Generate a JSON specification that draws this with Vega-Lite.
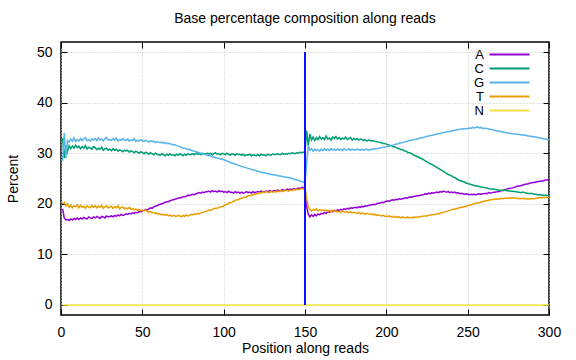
{
"$schema": "https://vega.github.io/schema/vega-lite/v6.json",
"autosize": "none",
"width": 488, "height": 273,
"padding": {"left": 61, "top": 42, "right": 27, "bottom": 45},
"background": "white",
"title": {"text": "Base percentage composition along reads", "font": "Liberation Sans", "fontSize": 14, "fontWeight": "normal", "color": "#000", "offset": 16},
"config": {
 "view": {"stroke": "#000", "strokeWidth": 1.5},
 "axis": {"domain": false, "labelFont": "Liberation Sans", "labelFontSize": 14, "labelColor": "#000", "titleFont": "Liberation Sans", "titleFontSize": 14, "titleFontWeight": "normal", "titleColor": "#000", "labelFlush": false, "labelOverlap": false},
 "legend": {"orient": "none", "legendX": 442, "legendY": 6, "padding": 0, "symbolType": "M-4,0H4", "symbolSize": 100, "symbolStrokeWidth": 2, "labelAlign": "right", "labelOffset": -32, "labelFont": "Liberation Sans", "labelFontSize": 13, "labelColor": "#000", "rowPadding": -0.5, "title": null}
},
"resolve": {"axis": {"x": "independent", "y": "independent"}},
"layer": [
 {
  "data": {"values": [
{"p":1,"A":19.0,"C":33.0,"G":28.5,"T":20.0,"N":0},{"p":2,"A":17.2,"C":29.0,"G":34.0,"T":20.3,"N":0},{"p":3,"A":16.8,"C":31.6,"G":29.0,"T":19.6,"N":0},{"p":4,"A":16.9,"C":30.4,"G":32.5,"T":20.0,"N":0},{"p":5,"A":16.7,"C":31.5,"G":32.2,"T":19.3,"N":0},{"p":6,"A":17.0,"C":30.9,"G":32.8,"T":19.7,"N":0},{"p":7,"A":16.8,"C":31.4,"G":32.4,"T":19.2,"N":0},{"p":8,"A":17.1,"C":31.0,"G":33.0,"T":19.6,"N":0},{"p":9,"A":16.9,"C":31.6,"G":32.3,"T":19.4,"N":0},{"p":10,"A":17.2,"C":31.1,"G":32.7,"T":19.8,"N":0},
{"p":11,"A":16.9,"C":31.4,"G":32.4,"T":19.2,"N":0},{"p":12,"A":17.2,"C":30.9,"G":32.9,"T":19.7,"N":0},{"p":13,"A":17.0,"C":31.3,"G":32.5,"T":19.3,"N":0},{"p":14,"A":17.3,"C":31.0,"G":32.8,"T":19.5,"N":0},{"p":15,"A":17.1,"C":31.5,"G":33.1,"T":19.1,"N":0},{"p":16,"A":17.0,"C":30.8,"G":32.5,"T":19.6,"N":0},{"p":17,"A":17.4,"C":31.2,"G":32.7,"T":19.4,"N":0},{"p":18,"A":17.2,"C":31.0,"G":32.4,"T":19.2,"N":0},{"p":19,"A":17.1,"C":30.8,"G":32.9,"T":19.7,"N":0},{"p":20,"A":17.4,"C":31.3,"G":32.6,"T":19.3,"N":0},
{"p":21,"A":17.2,"C":31.1,"G":32.9,"T":19.6,"N":0},{"p":22,"A":17.5,"C":30.7,"G":32.5,"T":19.2,"N":0},{"p":23,"A":17.3,"C":31.0,"G":33.0,"T":19.5,"N":0},{"p":24,"A":17.1,"C":30.8,"G":32.6,"T":19.3,"N":0},{"p":25,"A":17.5,"C":31.2,"G":32.8,"T":19.7,"N":0},{"p":26,"A":17.4,"C":30.6,"G":32.4,"T":19.1,"N":0},{"p":27,"A":17.2,"C":30.9,"G":32.9,"T":19.4,"N":0},{"p":28,"A":17.6,"C":31.0,"G":33.1,"T":19.6,"N":0},{"p":29,"A":17.4,"C":30.6,"G":32.6,"T":19.2,"N":0},{"p":30,"A":17.5,"C":30.8,"G":32.7,"T":19.3,"N":0},
{"p":31,"A":17.6,"C":30.5,"G":32.5,"T":19.5,"N":0},{"p":32,"A":17.4,"C":30.9,"G":32.9,"T":19.1,"N":0},{"p":33,"A":17.7,"C":30.6,"G":32.6,"T":19.4,"N":0},{"p":34,"A":17.5,"C":30.8,"G":33.0,"T":19.2,"N":0},{"p":35,"A":17.8,"C":30.4,"G":32.4,"T":19.6,"N":0},{"p":36,"A":17.6,"C":30.7,"G":32.7,"T":19.0,"N":0},{"p":37,"A":17.9,"C":30.5,"G":32.5,"T":19.3,"N":0},{"p":38,"A":17.7,"C":30.3,"G":32.9,"T":19.4,"N":0},{"p":39,"A":17.8,"C":30.6,"G":32.6,"T":19.0,"N":0},{"p":40,"A":18.0,"C":30.4,"G":32.5,"T":19.2,"N":0},
{"p":41,"A":17.9,"C":30.6,"G":32.8,"T":19.0,"N":0},{"p":42,"A":18.1,"C":30.2,"G":32.4,"T":19.3,"N":0},{"p":43,"A":18.0,"C":30.5,"G":32.7,"T":18.9,"N":0},{"p":44,"A":18.2,"C":30.3,"G":32.5,"T":19.1,"N":0},{"p":45,"A":18.1,"C":30.1,"G":32.9,"T":18.8,"N":0},{"p":46,"A":18.3,"C":30.4,"G":32.3,"T":19.0,"N":0},{"p":47,"A":18.2,"C":30.2,"G":32.6,"T":18.7,"N":0},{"p":48,"A":18.5,"C":30.0,"G":32.4,"T":18.9,"N":0},{"p":49,"A":18.4,"C":30.3,"G":32.7,"T":18.6,"N":0},{"p":50,"A":18.6,"C":30.1,"G":32.5,"T":18.8,"N":0},
{"p":51,"A":18.7,"C":29.9,"G":32.3,"T":18.6,"N":0},{"p":52,"A":18.9,"C":30.2,"G":32.6,"T":18.8,"N":0},{"p":53,"A":18.8,"C":30.0,"G":32.4,"T":18.5,"N":0},{"p":54,"A":19.0,"C":29.8,"G":32.2,"T":18.3,"N":0},{"p":55,"A":19.2,"C":30.1,"G":32.5,"T":18.5,"N":0},{"p":56,"A":19.1,"C":29.9,"G":32.3,"T":18.2,"N":0},{"p":57,"A":19.4,"C":29.7,"G":32.4,"T":18.3,"N":0},{"p":58,"A":19.5,"C":30.0,"G":32.1,"T":18.0,"N":0},{"p":59,"A":19.6,"C":29.8,"G":32.3,"T":18.2,"N":0},{"p":60,"A":19.8,"C":29.7,"G":32.2,"T":17.9,"N":0},
{"p":61,"A":19.9,"C":29.6,"G":32.1,"T":18.0,"N":0},{"p":62,"A":20.0,"C":29.9,"G":32.2,"T":17.8,"N":0},{"p":63,"A":20.1,"C":29.7,"G":32.0,"T":17.9,"N":0},{"p":64,"A":20.3,"C":29.5,"G":32.1,"T":17.7,"N":0},{"p":65,"A":20.4,"C":29.8,"G":31.9,"T":17.9,"N":0},{"p":66,"A":20.4,"C":29.6,"G":32.0,"T":17.6,"N":0},{"p":67,"A":20.6,"C":29.9,"G":31.8,"T":17.8,"N":0},{"p":68,"A":20.7,"C":29.6,"G":31.8,"T":17.5,"N":0},{"p":69,"A":20.8,"C":29.7,"G":31.6,"T":17.7,"N":0},{"p":70,"A":20.9,"C":29.5,"G":31.7,"T":17.6,"N":0},
{"p":71,"A":21.0,"C":29.8,"G":31.5,"T":17.5,"N":0},{"p":72,"A":21.1,"C":29.6,"G":31.4,"T":17.7,"N":0},{"p":73,"A":21.2,"C":29.9,"G":31.3,"T":17.6,"N":0},{"p":74,"A":21.2,"C":29.7,"G":31.2,"T":17.4,"N":0},{"p":75,"A":21.4,"C":29.5,"G":31.0,"T":17.7,"N":0},{"p":76,"A":21.4,"C":29.8,"G":31.0,"T":17.5,"N":0},{"p":77,"A":21.5,"C":29.6,"G":30.9,"T":17.8,"N":0},{"p":78,"A":21.7,"C":29.9,"G":30.7,"T":17.6,"N":0},{"p":79,"A":21.6,"C":29.7,"G":30.8,"T":17.7,"N":0},{"p":80,"A":21.8,"C":29.8,"G":30.6,"T":17.9,"N":0},
{"p":81,"A":21.9,"C":29.9,"G":30.5,"T":17.8,"N":0},{"p":82,"A":21.8,"C":29.7,"G":30.4,"T":18.0,"N":0},{"p":83,"A":22.0,"C":30.0,"G":30.3,"T":17.9,"N":0},{"p":84,"A":22.1,"C":29.8,"G":30.2,"T":18.1,"N":0},{"p":85,"A":22.2,"C":29.9,"G":30.1,"T":18.0,"N":0},{"p":86,"A":22.1,"C":29.7,"G":30.0,"T":18.2,"N":0},{"p":87,"A":22.3,"C":30.0,"G":29.8,"T":18.3,"N":0},{"p":88,"A":22.2,"C":29.8,"G":29.9,"T":18.4,"N":0},{"p":89,"A":22.4,"C":29.9,"G":29.7,"T":18.5,"N":0},{"p":90,"A":22.4,"C":30.0,"G":29.6,"T":18.6,"N":0},
{"p":91,"A":22.5,"C":29.8,"G":29.5,"T":18.8,"N":0},{"p":92,"A":22.3,"C":30.0,"G":29.5,"T":18.7,"N":0},{"p":93,"A":22.6,"C":29.7,"G":29.2,"T":18.9,"N":0},{"p":94,"A":22.4,"C":29.9,"G":29.3,"T":19.0,"N":0},{"p":95,"A":22.5,"C":30.1,"G":29.1,"T":19.1,"N":0},{"p":96,"A":22.3,"C":29.8,"G":29.0,"T":19.1,"N":0},{"p":97,"A":22.6,"C":29.9,"G":29.0,"T":19.3,"N":0},{"p":98,"A":22.4,"C":29.7,"G":28.8,"T":19.4,"N":0},{"p":99,"A":22.5,"C":30.0,"G":28.9,"T":19.4,"N":0},{"p":100,"A":22.3,"C":29.9,"G":28.7,"T":19.6,"N":0},
{"p":101,"A":22.4,"C":29.7,"G":28.6,"T":19.8,"N":0},{"p":102,"A":22.2,"C":30.0,"G":28.4,"T":19.9,"N":0},{"p":103,"A":22.5,"C":29.8,"G":28.4,"T":20.1,"N":0},{"p":104,"A":22.3,"C":29.6,"G":28.2,"T":20.2,"N":0},{"p":105,"A":22.3,"C":29.9,"G":28.0,"T":20.3,"N":0},{"p":106,"A":22.1,"C":29.8,"G":28.0,"T":20.5,"N":0},{"p":107,"A":22.4,"C":29.6,"G":27.8,"T":20.6,"N":0},{"p":108,"A":22.2,"C":29.9,"G":27.8,"T":20.8,"N":0},{"p":109,"A":22.3,"C":29.7,"G":27.6,"T":20.8,"N":0},{"p":110,"A":22.1,"C":29.8,"G":27.5,"T":21.0,"N":0},
{"p":111,"A":22.3,"C":29.6,"G":27.4,"T":21.1,"N":0},{"p":112,"A":22.1,"C":29.8,"G":27.3,"T":21.2,"N":0},{"p":113,"A":22.2,"C":29.5,"G":27.2,"T":21.3,"N":0},{"p":114,"A":22.4,"C":29.7,"G":27.1,"T":21.4,"N":0},{"p":115,"A":22.2,"C":29.6,"G":27.0,"T":21.6,"N":0},{"p":116,"A":22.3,"C":29.8,"G":26.9,"T":21.6,"N":0},{"p":117,"A":22.1,"C":29.5,"G":26.8,"T":21.7,"N":0},{"p":118,"A":22.4,"C":29.7,"G":26.7,"T":21.8,"N":0},{"p":119,"A":22.2,"C":29.6,"G":26.7,"T":21.9,"N":0},{"p":120,"A":22.3,"C":29.5,"G":26.5,"T":22.0,"N":0},
{"p":121,"A":22.4,"C":29.7,"G":26.5,"T":22.0,"N":0},{"p":122,"A":22.3,"C":29.5,"G":26.3,"T":22.2,"N":0},{"p":123,"A":22.5,"C":29.8,"G":26.3,"T":22.1,"N":0},{"p":124,"A":22.4,"C":29.6,"G":26.2,"T":22.3,"N":0},{"p":125,"A":22.3,"C":29.7,"G":26.1,"T":22.2,"N":0},{"p":126,"A":22.5,"C":29.5,"G":26.1,"T":22.4,"N":0},{"p":127,"A":22.4,"C":29.8,"G":25.9,"T":22.3,"N":0},{"p":128,"A":22.6,"C":29.7,"G":26.0,"T":22.2,"N":0},{"p":129,"A":22.5,"C":29.6,"G":25.8,"T":22.4,"N":0},{"p":130,"A":22.5,"C":29.8,"G":25.8,"T":22.3,"N":0},
{"p":131,"A":22.6,"C":29.8,"G":25.7,"T":22.4,"N":0},{"p":132,"A":22.5,"C":29.7,"G":25.7,"T":22.3,"N":0},{"p":133,"A":22.7,"C":29.9,"G":25.6,"T":22.5,"N":0},{"p":134,"A":22.6,"C":29.8,"G":25.5,"T":22.4,"N":0},{"p":135,"A":22.6,"C":29.7,"G":25.5,"T":22.6,"N":0},{"p":136,"A":22.8,"C":30.0,"G":25.4,"T":22.4,"N":0},{"p":137,"A":22.7,"C":29.8,"G":25.3,"T":22.5,"N":0},{"p":138,"A":22.7,"C":29.9,"G":25.3,"T":22.7,"N":0},{"p":139,"A":22.9,"C":29.8,"G":25.2,"T":22.6,"N":0},{"p":140,"A":22.8,"C":30.0,"G":25.2,"T":22.5,"N":0},
{"p":141,"A":22.9,"C":29.9,"G":25.1,"T":22.7,"N":0},{"p":142,"A":22.8,"C":30.1,"G":25.0,"T":22.6,"N":0},{"p":143,"A":23.0,"C":30.0,"G":24.9,"T":22.8,"N":0},{"p":144,"A":22.9,"C":29.9,"G":24.8,"T":22.7,"N":0},{"p":145,"A":23.0,"C":30.1,"G":24.8,"T":22.9,"N":0},{"p":146,"A":23.1,"C":30.0,"G":24.6,"T":22.8,"N":0},{"p":147,"A":23.0,"C":30.2,"G":24.5,"T":22.9,"N":0},{"p":148,"A":23.2,"C":30.1,"G":24.4,"T":23.0,"N":0},{"p":149,"A":23.2,"C":30.2,"G":24.3,"T":22.9,"N":0},{"p":150,"A":23.3,"C":30.3,"G":24.1,"T":23.1,"N":0},
{"p":151,"A":19.5,"C":34.5,"G":28.0,"T":21.0,"N":0},{"p":152,"A":18.0,"C":31.5,"G":31.5,"T":19.4,"N":0},{"p":153,"A":17.4,"C":33.8,"G":30.6,"T":18.9,"N":0},{"p":154,"A":17.8,"C":32.6,"G":30.9,"T":18.6,"N":0},{"p":155,"A":17.5,"C":33.2,"G":30.4,"T":18.9,"N":0},{"p":156,"A":17.9,"C":32.5,"G":30.8,"T":18.7,"N":0},{"p":157,"A":17.6,"C":33.1,"G":30.5,"T":19.0,"N":0},{"p":158,"A":18.0,"C":32.7,"G":30.7,"T":18.6,"N":0},{"p":159,"A":17.8,"C":33.3,"G":30.4,"T":18.8,"N":0},{"p":160,"A":18.1,"C":32.8,"G":30.8,"T":18.7,"N":0},
{"p":161,"A":18.0,"C":33.1,"G":30.5,"T":18.8,"N":0},{"p":162,"A":18.3,"C":32.7,"G":30.9,"T":18.6,"N":0},{"p":163,"A":18.1,"C":33.4,"G":30.6,"T":18.8,"N":0},{"p":164,"A":18.5,"C":32.8,"G":30.8,"T":18.5,"N":0},{"p":165,"A":18.3,"C":33.0,"G":30.5,"T":18.7,"N":0},{"p":166,"A":18.6,"C":32.6,"G":30.9,"T":18.4,"N":0},{"p":167,"A":18.4,"C":33.2,"G":30.6,"T":18.7,"N":0},{"p":168,"A":18.7,"C":32.9,"G":30.8,"T":18.5,"N":0},{"p":169,"A":18.6,"C":33.3,"G":30.6,"T":18.6,"N":0},{"p":170,"A":18.8,"C":32.8,"G":30.9,"T":18.4,"N":0},
{"p":171,"A":18.7,"C":33.1,"G":30.6,"T":18.5,"N":0},{"p":172,"A":18.9,"C":32.7,"G":30.8,"T":18.3,"N":0},{"p":173,"A":18.8,"C":33.0,"G":30.5,"T":18.6,"N":0},{"p":174,"A":19.0,"C":32.8,"G":30.9,"T":18.4,"N":0},{"p":175,"A":18.9,"C":33.2,"G":30.7,"T":18.3,"N":0},{"p":176,"A":19.1,"C":32.7,"G":30.6,"T":18.5,"N":0},{"p":177,"A":19.0,"C":32.9,"G":30.9,"T":18.2,"N":0},{"p":178,"A":19.2,"C":33.1,"G":30.6,"T":18.4,"N":0},{"p":179,"A":19.1,"C":32.6,"G":30.8,"T":18.2,"N":0},{"p":180,"A":19.2,"C":32.9,"G":30.7,"T":18.3,"N":0},
{"p":181,"A":19.3,"C":32.7,"G":30.6,"T":18.2,"N":0},{"p":182,"A":19.2,"C":32.9,"G":30.8,"T":18.1,"N":0},{"p":183,"A":19.4,"C":32.6,"G":30.7,"T":18.3,"N":0},{"p":184,"A":19.3,"C":32.8,"G":30.6,"T":18.0,"N":0},{"p":185,"A":19.5,"C":32.7,"G":30.8,"T":18.2,"N":0},{"p":186,"A":19.4,"C":32.5,"G":30.6,"T":18.1,"N":0},{"p":187,"A":19.6,"C":32.7,"G":30.7,"T":17.9,"N":0},{"p":188,"A":19.5,"C":32.4,"G":30.8,"T":18.1,"N":0},{"p":189,"A":19.7,"C":32.6,"G":30.6,"T":18.0,"N":0},{"p":190,"A":19.7,"C":32.5,"G":30.7,"T":17.9,"N":0},
{"p":191,"A":19.8,"C":32.4,"G":30.8,"T":18.0,"N":0},{"p":192,"A":19.9,"C":32.5,"G":30.8,"T":17.8,"N":0},{"p":193,"A":19.8,"C":32.3,"G":30.9,"T":17.9,"N":0},{"p":194,"A":20.0,"C":32.3,"G":30.9,"T":17.7,"N":0},{"p":195,"A":20.1,"C":32.2,"G":31.0,"T":17.8,"N":0},{"p":196,"A":20.1,"C":32.1,"G":31.0,"T":17.7,"N":0},{"p":197,"A":20.3,"C":32.1,"G":31.1,"T":17.6,"N":0},{"p":198,"A":20.2,"C":31.9,"G":31.2,"T":17.7,"N":0},{"p":199,"A":20.4,"C":31.9,"G":31.2,"T":17.5,"N":0},{"p":200,"A":20.5,"C":31.8,"G":31.3,"T":17.6,"N":0},
{"p":201,"A":20.6,"C":31.7,"G":31.4,"T":17.5,"N":0},{"p":202,"A":20.5,"C":31.6,"G":31.4,"T":17.6,"N":0},{"p":203,"A":20.7,"C":31.5,"G":31.5,"T":17.4,"N":0},{"p":204,"A":20.8,"C":31.3,"G":31.6,"T":17.5,"N":0},{"p":205,"A":20.7,"C":31.3,"G":31.7,"T":17.3,"N":0},{"p":206,"A":20.9,"C":31.1,"G":31.8,"T":17.5,"N":0},{"p":207,"A":20.8,"C":31.0,"G":31.8,"T":17.3,"N":0},{"p":208,"A":21.0,"C":30.9,"G":32.0,"T":17.4,"N":0},{"p":209,"A":20.9,"C":30.7,"G":32.0,"T":17.2,"N":0},{"p":210,"A":21.0,"C":30.7,"G":32.1,"T":17.4,"N":0},
{"p":211,"A":21.1,"C":30.5,"G":32.2,"T":17.3,"N":0},{"p":212,"A":21.2,"C":30.4,"G":32.3,"T":17.2,"N":0},{"p":213,"A":21.1,"C":30.2,"G":32.3,"T":17.4,"N":0},{"p":214,"A":21.3,"C":30.1,"G":32.5,"T":17.2,"N":0},{"p":215,"A":21.4,"C":30.0,"G":32.5,"T":17.3,"N":0},{"p":216,"A":21.3,"C":29.8,"G":32.6,"T":17.2,"N":0},{"p":217,"A":21.5,"C":29.6,"G":32.7,"T":17.4,"N":0},{"p":218,"A":21.5,"C":29.5,"G":32.7,"T":17.3,"N":0},{"p":219,"A":21.6,"C":29.3,"G":32.8,"T":17.4,"N":0},{"p":220,"A":21.6,"C":29.2,"G":32.9,"T":17.4,"N":0},
{"p":221,"A":21.7,"C":29.0,"G":33.0,"T":17.5,"N":0},{"p":222,"A":21.8,"C":28.9,"G":33.1,"T":17.5,"N":0},{"p":223,"A":21.8,"C":28.7,"G":33.1,"T":17.6,"N":0},{"p":224,"A":22.0,"C":28.5,"G":33.3,"T":17.6,"N":0},{"p":225,"A":21.9,"C":28.3,"G":33.3,"T":17.6,"N":0},{"p":226,"A":22.1,"C":28.1,"G":33.4,"T":17.7,"N":0},{"p":227,"A":22.0,"C":27.9,"G":33.5,"T":17.8,"N":0},{"p":228,"A":22.2,"C":27.8,"G":33.5,"T":17.8,"N":0},{"p":229,"A":22.1,"C":27.6,"G":33.6,"T":17.9,"N":0},{"p":230,"A":22.2,"C":27.4,"G":33.7,"T":17.9,"N":0},
{"p":231,"A":22.3,"C":27.2,"G":33.8,"T":18.0,"N":0},{"p":232,"A":22.2,"C":27.0,"G":33.8,"T":18.0,"N":0},{"p":233,"A":22.4,"C":26.8,"G":33.9,"T":18.2,"N":0},{"p":234,"A":22.3,"C":26.6,"G":34.0,"T":18.2,"N":0},{"p":235,"A":22.5,"C":26.4,"G":34.1,"T":18.3,"N":0},{"p":236,"A":22.4,"C":26.2,"G":34.1,"T":18.4,"N":0},{"p":237,"A":22.3,"C":26.0,"G":34.2,"T":18.5,"N":0},{"p":238,"A":22.4,"C":25.8,"G":34.3,"T":18.6,"N":0},{"p":239,"A":22.2,"C":25.7,"G":34.3,"T":18.7,"N":0},{"p":240,"A":22.3,"C":25.5,"G":34.4,"T":18.8,"N":0},
{"p":241,"A":22.2,"C":25.3,"G":34.5,"T":18.9,"N":0},{"p":242,"A":22.3,"C":25.2,"G":34.5,"T":18.9,"N":0},{"p":243,"A":22.1,"C":25.0,"G":34.6,"T":19.0,"N":0},{"p":244,"A":22.2,"C":24.8,"G":34.7,"T":19.1,"N":0},{"p":245,"A":22.0,"C":24.6,"G":34.7,"T":19.2,"N":0},{"p":246,"A":22.1,"C":24.5,"G":34.8,"T":19.3,"N":0},{"p":247,"A":22.0,"C":24.4,"G":34.8,"T":19.3,"N":0},{"p":248,"A":21.9,"C":24.3,"G":34.9,"T":19.4,"N":0},{"p":249,"A":22.0,"C":24.1,"G":34.8,"T":19.5,"N":0},{"p":250,"A":21.9,"C":24.0,"G":34.9,"T":19.6,"N":0},
{"p":251,"A":21.8,"C":23.9,"G":35.0,"T":19.7,"N":0},{"p":252,"A":21.9,"C":23.8,"G":34.9,"T":19.8,"N":0},{"p":253,"A":21.8,"C":23.7,"G":35.1,"T":19.9,"N":0},{"p":254,"A":21.9,"C":23.6,"G":35.0,"T":20.0,"N":0},{"p":255,"A":21.8,"C":23.5,"G":35.1,"T":20.1,"N":0},{"p":256,"A":21.9,"C":23.5,"G":35.2,"T":20.2,"N":0},{"p":257,"A":22.0,"C":23.4,"G":35.0,"T":20.2,"N":0},{"p":258,"A":21.9,"C":23.3,"G":35.1,"T":20.3,"N":0},{"p":259,"A":22.0,"C":23.3,"G":34.9,"T":20.4,"N":0},{"p":260,"A":22.0,"C":23.2,"G":35.0,"T":20.5,"N":0},
{"p":261,"A":22.1,"C":23.1,"G":34.9,"T":20.6,"N":0},{"p":262,"A":22.0,"C":23.1,"G":34.9,"T":20.6,"N":0},{"p":263,"A":22.2,"C":23.0,"G":34.8,"T":20.7,"N":0},{"p":264,"A":22.1,"C":22.9,"G":34.7,"T":20.8,"N":0},{"p":265,"A":22.2,"C":22.9,"G":34.7,"T":20.8,"N":0},{"p":266,"A":22.3,"C":22.9,"G":34.6,"T":20.9,"N":0},{"p":267,"A":22.3,"C":22.8,"G":34.5,"T":20.9,"N":0},{"p":268,"A":22.4,"C":22.8,"G":34.4,"T":21.0,"N":0},{"p":269,"A":22.4,"C":22.7,"G":34.4,"T":20.9,"N":0},{"p":270,"A":22.5,"C":22.7,"G":34.3,"T":21.0,"N":0},
{"p":271,"A":22.6,"C":22.7,"G":34.2,"T":21.1,"N":0},{"p":272,"A":22.7,"C":22.6,"G":34.2,"T":21.0,"N":0},{"p":273,"A":22.8,"C":22.7,"G":34.1,"T":21.1,"N":0},{"p":274,"A":22.9,"C":22.6,"G":34.0,"T":21.1,"N":0},{"p":275,"A":23.0,"C":22.6,"G":34.0,"T":21.2,"N":0},{"p":276,"A":23.0,"C":22.5,"G":33.9,"T":21.1,"N":0},{"p":277,"A":23.1,"C":22.5,"G":33.9,"T":21.2,"N":0},{"p":278,"A":23.2,"C":22.5,"G":33.8,"T":21.1,"N":0},{"p":279,"A":23.3,"C":22.4,"G":33.8,"T":21.2,"N":0},{"p":280,"A":23.4,"C":22.4,"G":33.8,"T":21.1,"N":0},
{"p":281,"A":23.5,"C":22.3,"G":33.7,"T":21.0,"N":0},{"p":282,"A":23.5,"C":22.3,"G":33.7,"T":21.1,"N":0},{"p":283,"A":23.6,"C":22.2,"G":33.6,"T":21.0,"N":0},{"p":284,"A":23.7,"C":22.3,"G":33.6,"T":21.1,"N":0},{"p":285,"A":23.8,"C":22.2,"G":33.6,"T":21.0,"N":0},{"p":286,"A":23.9,"C":22.1,"G":33.5,"T":21.0,"N":0},{"p":287,"A":23.9,"C":22.1,"G":33.4,"T":20.9,"N":0},{"p":288,"A":24.1,"C":22.0,"G":33.4,"T":21.0,"N":0},{"p":289,"A":24.1,"C":22.1,"G":33.3,"T":21.0,"N":0},{"p":290,"A":24.2,"C":22.0,"G":33.3,"T":21.0,"N":0},
{"p":291,"A":24.2,"C":21.9,"G":33.2,"T":21.0,"N":0},{"p":292,"A":24.3,"C":21.9,"G":33.2,"T":21.1,"N":0},{"p":293,"A":24.4,"C":21.8,"G":33.1,"T":21.1,"N":0},{"p":294,"A":24.4,"C":21.8,"G":33.0,"T":21.2,"N":0},{"p":295,"A":24.5,"C":21.8,"G":33.0,"T":21.2,"N":0},{"p":296,"A":24.5,"C":21.7,"G":32.9,"T":21.2,"N":0},{"p":297,"A":24.6,"C":21.7,"G":32.8,"T":21.3,"N":0},{"p":298,"A":24.7,"C":21.7,"G":32.8,"T":21.2,"N":0},{"p":299,"A":24.7,"C":21.6,"G":32.7,"T":21.3,"N":0},{"p":300,"A":24.8,"C":21.6,"G":32.6,"T":21.3,"N":0}
  ]},
  "transform": [{"fold": ["A", "C", "G", "T", "N"], "as": ["base", "pct"]}],
  "mark": {"type": "line", "strokeWidth": 1.5, "interpolate": "linear"},
  "encoding": {
   "x": {"field": "p", "type": "quantitative", "scale": {"domain": [0, 300], "nice": false}, "axis": {"values": [0, 50, 100, 150, 200, 250, 300], "title": "Position along reads", "grid": true, "gridColor": "#c4c4c4", "gridDash": [1, 2], "ticks": true, "tickColor": "#000", "tickSize": -6, "tickWidth": 1, "labelPadding": 16, "titlePadding": 2}},
   "y": {"field": "pct", "type": "quantitative", "scale": {"domain": [-2, 52], "nice": false, "zero": false}, "axis": {"values": [0, 10, 20, 30, 40, 50], "title": "Percent", "grid": true, "gridColor": "#c4c4c4", "gridDash": [1, 2], "ticks": true, "tickColor": "#000", "tickSize": -6, "tickWidth": 1, "labelPadding": 15, "titlePadding": 16}},
   "color": {"field": "base", "type": "nominal", "scale": {"domain": ["A", "C", "G", "T", "N"], "range": ["#9400d3", "#009e73", "#56b4e9", "#e69f00", "#f0e442"]}, "legend": {"title": null}},
   "order": {"field": "p", "type": "quantitative"}
  }
 },
 {
  "data": {"values": [{"pos": 150, "lo": 0, "hi": 50}]},
  "mark": {"type": "rule", "color": "#1010ff", "strokeWidth": 2},
  "encoding": {
   "x": {"field": "pos", "type": "quantitative", "axis": {"orient": "top", "values": [0, 50, 100, 150, 200, 250, 300], "labels": false, "title": null, "grid": false, "ticks": true, "tickColor": "#000", "tickSize": -6, "tickWidth": 1}},
   "y": {"field": "lo", "type": "quantitative", "axis": {"orient": "right", "values": [0, 10, 20, 30, 40, 50], "labels": false, "title": null, "grid": false, "ticks": true, "tickColor": "#000", "tickSize": -6, "tickWidth": 1}},
   "y2": {"field": "hi"}
  }
 }
]
}
